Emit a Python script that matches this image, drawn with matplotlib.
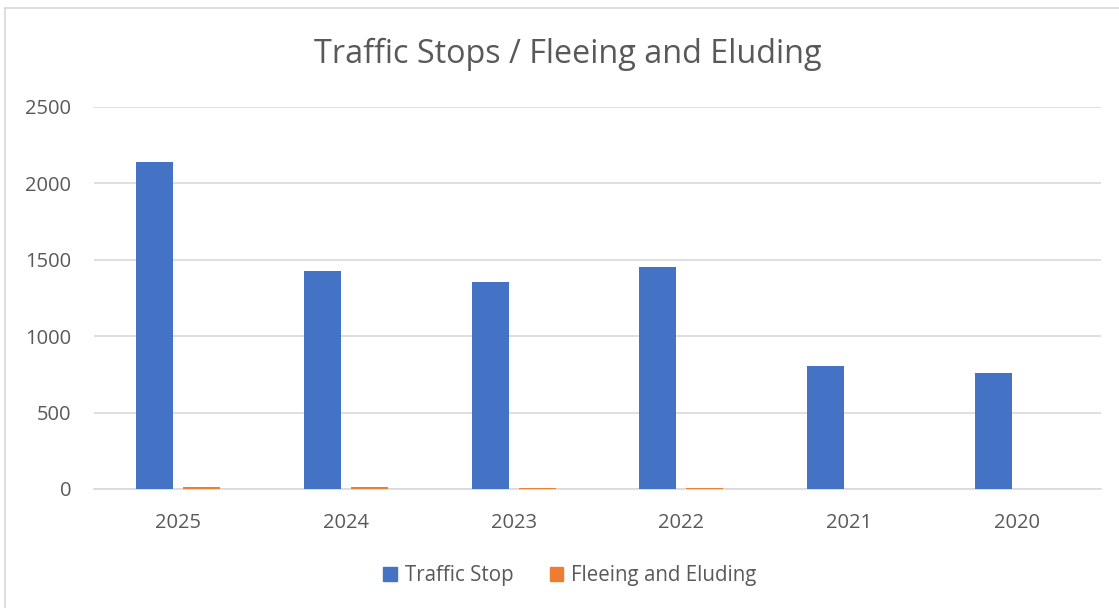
import numpy as np
import matplotlib.pyplot as plt
from matplotlib.lines import Line2D
from matplotlib.patches import Patch

# ----- Data -----
YEARS = ["2025", "2024", "2023", "2022", "2021", "2020"]
TRAFFIC_STOP = [2140, 1427, 1355, 1453, 805, 759]
FLEEING_ELUDING = [13, 12, 8, 4, 0, 0]

BLUE = "#4472C4"
ORANGE = "#ED7D31"
TEXT = "#595959"
GRID = "#D9D9D9"

plt.rcParams["font.family"] = ["Open Sans", "DejaVu Sans"]

W, H = 1119, 608
fig = plt.figure(figsize=(W / 100, H / 100), dpi=100)
ax = fig.add_axes([94 / W, 1 - 489 / H, (1101 - 94) / W, (489 - 107) / H])

x = np.arange(len(YEARS))
bar_w = 0.22
ax.bar(x - 0.14, TRAFFIC_STOP, width=bar_w, color=BLUE, zorder=3, label="Traffic Stop")
ax.bar(x + 0.14, FLEEING_ELUDING, width=bar_w, color=ORANGE, zorder=3, label="Fleeing and Eluding")

ax.set_xlim(-0.5, len(YEARS) - 0.5)
ax.set_ylim(0, 2500)
ax.set_yticks(range(0, 2501, 500))
ax.set_xticks(x)
ax.set_xticklabels(YEARS)
ax.yaxis.grid(True, color=GRID, linewidth=1.2, zorder=0)
ax.tick_params(axis="both", length=0, colors=TEXT, labelsize=14.5)
ax.tick_params(axis="y", pad=16.5)
ax.tick_params(axis="x", pad=17)
for side in ["top", "right", "left"]:
    ax.spines[side].set_visible(False)
ax.spines["bottom"].set_color(GRID)
ax.spines["bottom"].set_linewidth(1.2)

fig.text(568 / W, 1 - 54 / H, "Traffic Stops / Fleeing and Eluding",
         ha="center", va="center", fontsize=23.3, color=TEXT)

handles = [Patch(color=BLUE), Patch(color=ORANGE)]
fig.legend(handles, ["Traffic Stop", "Fleeing and Eluding"], loc="center",
           bbox_to_anchor=(570 / W, 1 - 576 / H), ncol=2, frameon=False,
           fontsize=14.8, labelcolor=TEXT, handlelength=0.65, handleheight=0.65,
           handletextpad=0.4, columnspacing=1.75)

# chart frame (only left and top edges visible in the crop)
fig.add_artist(Line2D([5 / W, 5 / W], [0, 1 - 8 / H], color=GRID, linewidth=1.2))
fig.add_artist(Line2D([5 / W, 1], [1 - 8 / H, 1 - 8 / H], color=GRID, linewidth=1.2))

fig.savefig("out.png", dpi=100)
